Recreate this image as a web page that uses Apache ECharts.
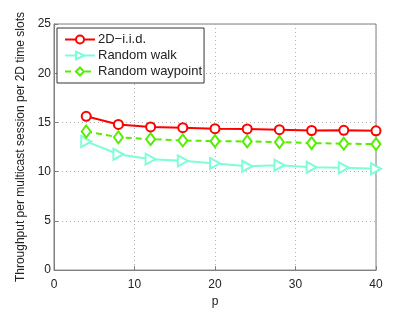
<!DOCTYPE html>
<html><head><meta charset="utf-8">
<script src="https://cdn.jsdelivr.net/npm/echarts@6/dist/echarts.min.js"></script>
<style>html,body{margin:0;padding:0;background:#fff}#c{width:415px;height:313px}</style>
</head><body><div id="c"></div>
<script>
var pValues = [4, 8, 12, 16, 20, 24, 28, 32, 36, 40];
var iid = [15.62, 14.8, 14.54, 14.47, 14.37, 14.34, 14.27, 14.18, 14.2, 14.15];
var randomWalk = [13.07, 11.77, 11.27, 11.1, 10.84, 10.55, 10.65, 10.45, 10.4, 10.3];
var randomWaypoint = [14.08, 13.49, 13.3, 13.17, 13.1, 13.07, 13.0, 12.9, 12.84, 12.8];
var seriesNames = ['2D\u2212i.i.d.', 'Random walk', 'Random waypoint'];
var xTicks = [0, 10, 20, 30, 40];
var yTicks = [0, 5, 10, 15, 20, 25];

function pairs(vals){ return pValues.map(function(p,i){ return [p, vals[i]]; }); }
var font = 'Liberation Sans, Arial, sans-serif';
var chart = echarts.init(document.getElementById('c'));
chart.setOption({
  animation: false,
  backgroundColor: '#fff',
  grid: {left: 54, right: 39, top: 24, bottom: 36, show: true, borderColor: '#7f7f7f', borderWidth: 1},
  legend: {
    left: 57, top: 28, orient: 'vertical', itemGap: 3, itemWidth: 30, itemHeight: 10,
    backgroundColor: '#fff', borderColor: '#333', borderWidth: 1, padding: [5, 2, 5, 7],
    textStyle: {fontFamily: font, fontSize: 13, color: '#222', padding: [0,0,0,-2]},
    data: seriesNames
  },
  xAxis: {
    type: 'value', min: 0, max: 40, interval: 10,
    name: 'p', nameLocation: 'middle', nameGap: 25,
    nameTextStyle: {fontFamily: font, fontSize: 12, color: '#222'},
    axisLine: {show: true, lineStyle: {color: '#7f7f7f'}},
    axisTick: {show: true, inside: true, length: 4, lineStyle: {color: '#7f7f7f'}},
    axisLabel: {fontFamily: font, fontSize: 12, color: '#222', margin: 9,
      formatter: function(v){ return xTicks.indexOf(v) >= 0 ? String(v) : ''; }},
    splitLine: {show: true, lineStyle: {color: '#b0b0b0', type: [1, 3], width: 1}}
  },
  yAxis: {
    type: 'value', min: 0, max: 25, interval: 5,
    name: 'Throughput per multicast session per 2D time slots', nameLocation: 'middle', nameGap: 19,
    nameTextStyle: {fontFamily: font, fontSize: 12, color: '#222'},
    axisLine: {show: true, lineStyle: {color: '#7f7f7f'}},
    axisTick: {show: true, inside: true, length: 4, lineStyle: {color: '#7f7f7f'}},
    axisLabel: {fontFamily: font, fontSize: 12, color: '#222', margin: 3,
      formatter: function(v){ return yTicks.indexOf(v) >= 0 ? String(v) : ''; }},
    splitLine: {show: true, lineStyle: {color: '#b0b0b0', type: [1, 3], width: 1}}
  },
  series: [
    {name: seriesNames[0], type: 'line', data: pairs(iid), symbol: 'circle', symbolSize: 9,
     lineStyle: {color: '#ff0000', width: 2}, itemStyle: {color: '#fff', borderColor: '#ff0000', borderWidth: 2}, z: 3},
    {name: seriesNames[1], type: 'line', data: pairs(randomWalk), symbol: 'triangle', symbolSize: [11, 10], symbolRotate: -90,
     lineStyle: {color: '#7ffcd8', width: 2}, itemStyle: {color: '#fff', borderColor: '#7ffcd8', borderWidth: 2}, z: 2},
    {name: seriesNames[2], type: 'line', data: pairs(randomWaypoint), symbol: 'diamond', symbolSize: [9, 12],
     lineStyle: {color: '#55ee00', width: 2, type: [6, 4]}, itemStyle: {color: '#fff', borderColor: '#55ee00', borderWidth: 2}, z: 2}
  ]
});
</script></body></html>
